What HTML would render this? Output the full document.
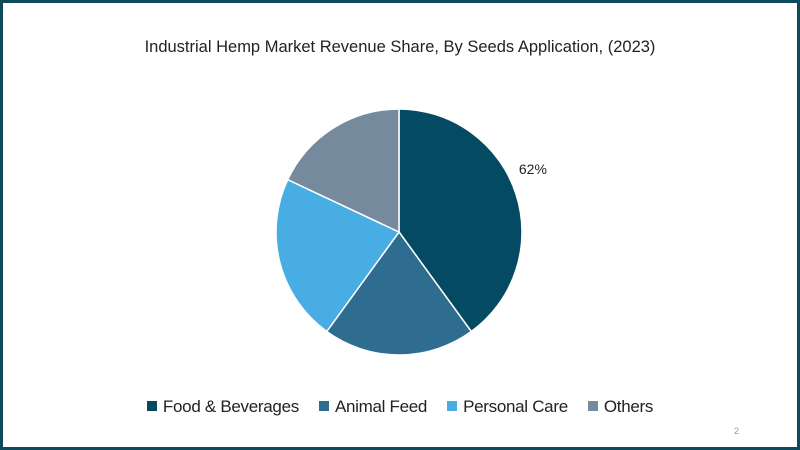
<!DOCTYPE html>
<html><head><meta charset="utf-8">
<style>
html,body{margin:0;padding:0;background:#fff;}
#frame{position:relative;width:800px;height:450px;box-sizing:border-box;border:3px solid #0f4a5c;background:#fff;font-family:"Liberation Sans",sans-serif;overflow:hidden;}
#title{position:absolute;left:0;width:794px;top:35px;text-align:center;font-size:16.5px;color:#222;}
#legend{position:absolute;left:0;width:794px;top:394px;text-align:center;font-size:17px;color:#222;letter-spacing:-0.3px;}
.lg{display:inline-block;margin:0 10px;}
.sw{display:inline-block;width:10px;height:10px;margin-right:6px;vertical-align:1px;}
#pg{position:absolute;left:731px;top:423px;font-size:9px;color:#999;}
svg{position:absolute;left:0;top:0;}
</style></head><body>
<div id="frame">
<div id="title">Industrial Hemp Market Revenue Share, By Seeds Application, (2023)</div>
<svg id="pie" width="794" height="444"></svg>
<div id="legend"></div>
<div id="pg">2</div>
</div>
<script>
const categories=["Food & Beverages","Animal Feed","Personal Care","Others"];
const values=[40,20,22,18];
const colors=["#054a63","#2e6d8f","#47ade2","#768a9e"];
const labels=["62%","","",""];
const cx=396,cy=229,r=123;
const svg=document.getElementById('pie');
const NS="http://www.w3.org/2000/svg";
const total=values.reduce((a,b)=>a+b,0);
function pt(a,rr){return [cx+rr*Math.sin(a),cy-rr*Math.cos(a)];}
let a0=0;
values.forEach((v,i)=>{
  const a1=a0+v/total*2*Math.PI;
  const p0=pt(a0,r),p1=pt(a1,r);
  const large=(a1-a0)>Math.PI?1:0;
  const path=document.createElementNS(NS,'path');
  path.setAttribute('d',`M${cx},${cy} L${p0[0]},${p0[1]} A${r},${r} 0 ${large} 1 ${p1[0]},${p1[1]} Z`);
  path.setAttribute('fill',colors[i]);
  path.setAttribute('stroke','#fff');
  path.setAttribute('stroke-width','1.5');
  
  
  svg.appendChild(path);
  if(labels[i]){
    const t=document.createElementNS(NS,'text');
    const lp=pt(a0+(a1-a0)*0.45,r+25);
    t.setAttribute('x',lp[0]);t.setAttribute('y',lp[1]);
    t.setAttribute('font-size','14');t.setAttribute('fill','#222');
    t.setAttribute('font-family','Liberation Sans, sans-serif');
    t.setAttribute('text-anchor','middle');
    t.setAttribute('dominant-baseline','central');
    t.textContent=labels[i];
    
    
    svg.appendChild(t);
  }
  a0=a1;
});
const lg=document.getElementById('legend');
categories.forEach((c,i)=>{
  const s=document.createElement('span');s.className='lg';
  
  
  s.innerHTML=`<span class="sw" style="background:${colors[i]}"></span>`;
  s.appendChild(document.createTextNode(c));
  lg.appendChild(s);
});
</script>
</body></html>
